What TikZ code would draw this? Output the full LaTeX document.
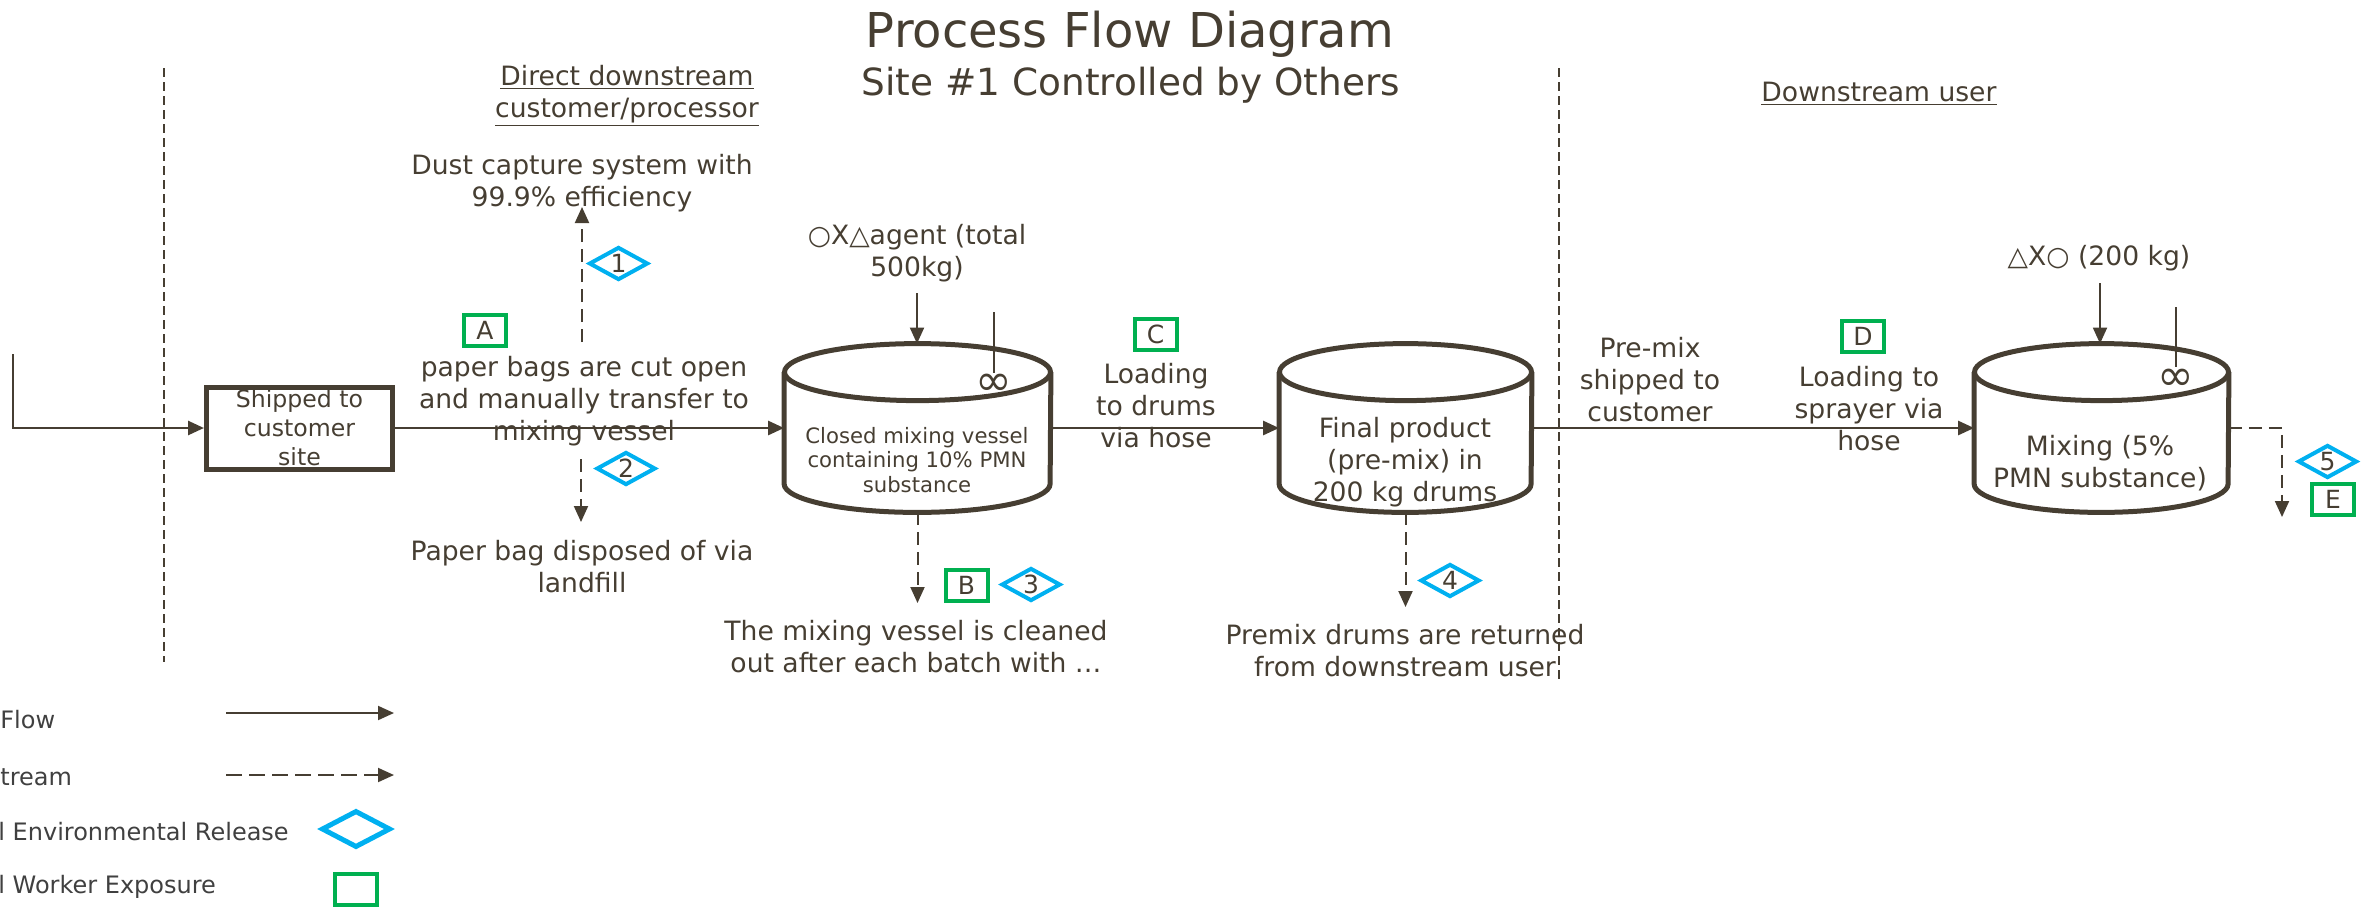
\documentclass[tikz,border=0pt]{standalone}
\usepackage{fontspec}
\setmainfont{DejaVu Sans}
\usetikzlibrary{arrows.meta,shapes.geometric}
\definecolor{ink}{HTML}{463E32}
\definecolor{relc}{HTML}{00B0F0}
\definecolor{wrkc}{HTML}{00B050}
\definecolor{legtxt}{HTML}{404040}
\newcommand\drawvessel[3]{%
  \draw[vessel] ([yshift=-#3]#1.north) ellipse [x radius=#2, y radius=#3];
  \draw[vessel] ([yshift=-#3]#1.north west) -- ([yshift=#3]#1.south west)
     arc [start angle=180, end angle=360, x radius=#2, y radius=#3]
     -- ([yshift=-#3]#1.north east);}
\begin{document}
\begin{tikzpicture}[x=0.5pt,y=-0.5pt,
  lbl/.style={text=ink,align=center,inner sep=0pt,font=\fontsize{13.3}{16}\selectfont},
  flow/.style={draw=ink,line width=1.3pt,-{Triangle[length=8pt,width=7pt]}},
  relflow/.style={draw=ink,line width=1pt,dash pattern=on 6.5pt off 3.5pt,-{Triangle[length=8pt,width=7pt]}},
  vessel/.style={draw=ink,line width=2.5pt},
  envrel/.style={shape=diamond,draw=relc,line width=2pt,minimum width=29.5pt,minimum height=16.5pt,aspect=2,inner sep=0pt,text=ink,font=\fontsize{12.5}{12.5}\selectfont},
  wexp/.style={shape=rectangle,draw=wrkc,line width=2pt,minimum width=21pt,minimum height=15.5pt,inner sep=0pt,text=ink,font=\fontsize{12.5}{12.5}\selectfont},
  sepline/.style={draw=ink,line width=0.6pt,dash pattern=on 4.5pt off 2.5pt},
  legtext/.style={text=legtxt,inner sep=0pt,anchor=west,font=\fontsize{12}{14}\selectfont},
  agit/.style={draw=ink,line width=0.7pt},
  infsym/.style={text=ink,inner sep=0pt,font=\fontsize{22}{22}\selectfont},
]
\useasboundingbox (0,0) rectangle (2376,906);

% titles
\node[text=ink,font=\fontsize{24}{28}\selectfont,anchor=base,inner sep=0pt] (title) at (1130,47) {Process Flow Diagram};
\node[text=ink,font=\fontsize{18.7}{22}\selectfont,anchor=base,inner sep=0pt] (subtitle) at (1131,95) {Site \#1 Controlled by Others};
\node[lbl] (dds) at (627,96) {\underline{Direct downstream}\\\underline{customer/processor}};
\node[lbl,anchor=base] (dsu) at (1879,101) {\underline{Downstream user}};

% separators
\draw[sepline] (164,68) -- (164,662);
\draw[sepline] (1559,68) -- (1559,679);

% main units
\node[draw=ink,line width=2.5pt,minimum width=93pt,minimum height=41pt,inner sep=0pt,text=ink,align=center,font=\fontsize{11.8}{14.5}\selectfont] (ship) at (299.5,428) {Shipped to\\customer\\site};
\node[minimum width=133pt,minimum height=84pt,inner sep=0pt] (cyl1) at (917.5,428) {};
\node[minimum width=126pt,minimum height=84pt,inner sep=0pt] (cyl2) at (1405.5,428) {};
\node[minimum width=127pt,minimum height=84pt,inner sep=0pt] (cyl3) at (2101.5,428) {};
\drawvessel{cyl1}{66.5pt}{14.25pt}
\drawvessel{cyl2}{63pt}{14.25pt}
\drawvessel{cyl3}{63.5pt}{14.25pt}
\node[text=ink,align=center,inner sep=0pt,font=\fontsize{10.6}{12.3}\selectfont] (t1) at (917,460) {Closed mixing vessel\\containing 10\% PMN\\substance};
\node[lbl] (t2) at (1405,462) {Final product\\(pre-mix) in\\200 kg drums};
\node[lbl] (t3) at (2100,463) {Mixing (5\%\\PMN substance)};

% agitators
\coordinate (ag1a) at (994,312); \coordinate (ag1b) at (994,373);
\draw[agit] (ag1a) -- (ag1b);
\node[infsym] (inf1) at (994,385) {∞};
\coordinate (ag3a) at (2176,307); \coordinate (ag3b) at (2176,367);
\draw[agit] (ag3a) -- (ag3b);
\node[infsym] (inf3) at (2176,380) {∞};

% inputs
\node[lbl] (oxa) at (917,253) {○X△agent (total\\500kg)};
\coordinate (in1) at (917,293);
\draw[flow,line width=1pt] (in1) -- (in1 |- cyl1.north);
\node[lbl] (xo) at (2099,258) {△X○ (200 kg)};
\coordinate (in3) at (2100,283);
\draw[flow,line width=1pt] (in3) -- (in3 |- cyl3.north);

% main flow
\coordinate (src0) at (13,354);
\draw[flow] (src0) |- (ship.west);
\draw[flow] (ship.east) -- (cyl1.west);
\draw[flow] (cyl1.east) -- (cyl2.west);
\draw[flow] (cyl2.east) -- (cyl3.west);

% step labels
\node[lbl] (atext) at (584,401) {paper bags are cut open\\and manually transfer to\\mixing vessel};
\node[lbl] (ctext) at (1156,406) {Loading\\to drums\\via hose};
\node[lbl] (pmtext) at (1650,380) {Pre-mix\\shipped to\\customer};
\node[lbl] (dtext) at (1869,409) {Loading to\\sprayer via\\hose};

% release streams
\node[lbl] (dust) at (582,183) {Dust capture system with\\99.9\% efficiency};
\coordinate (r1a) at (582,342); \coordinate (r1b) at (582,207);
\draw[relflow] (r1a) -- (r1b);
\node[lbl] (landfill) at (582,567) {Paper bag disposed of via\\landfill};
\coordinate (r2a) at (581,459); \coordinate (r2b) at (581,522);
\draw[relflow] (r2a) -- (r2b);
\coordinate (r3b) at (917,603);
\draw[relflow] (cyl1.south) -- (cyl1.south |- r3b);
\node[lbl] (clean) at (916,647) {The mixing vessel is cleaned\\out after each batch with …};
\coordinate (r4b) at (1405,607);
\draw[relflow] (cyl2.south) -- (cyl2.south |- r4b);
\node[lbl] (ret) at (1405,651) {Premix drums are returned\\from downstream user};
\coordinate (r5b) at (2282,517);
\draw[relflow] (cyl3.east) -| (r5b);

% markers
\node[wexp] (wA) at (485,330.5) {A};
\node[wexp] (wB) at (966.5,585.5) {B};
\node[wexp] (wC) at (1155.5,334.5) {C};
\node[wexp] (wD) at (1863,336.5) {D};
\node[wexp] (wE) at (2333,499.5) {E};
\node[envrel] (e1) at (618.5,263.5) {1};
\node[envrel] (e2) at (626,468.5) {2};
\node[envrel] (e3) at (1031,584.5) {3};
\node[envrel] (e4) at (1450,580.5) {4};
\node[envrel] (e5) at (2327.5,461.5) {5};

% legend
\node[legtext] (lg1) at (0,720) {Flow};
\node[legtext] (lg2) at (0,777) {tream};
\node[legtext] (lg3) at (-2,832) {l Environmental Release};
\node[legtext] (lg4) at (-2,887) {l Worker Exposure};
\coordinate (la1) at (226,713); \coordinate (la2) at (394,713);
\draw[flow,line width=1pt] (la1) -- (la2);
\coordinate (lb1) at (226,775); \coordinate (lb2) at (394,775);
\draw[relflow,dash pattern=on 8pt off 3.5pt] (lb1) -- (lb2);
\node[envrel,minimum width=34.5pt,minimum height=18.5pt,line width=2.5pt] (lgd) at (356,829) {};
\node[wexp] (lgw) at (356,889.5) {};
\end{tikzpicture}
\end{document}
